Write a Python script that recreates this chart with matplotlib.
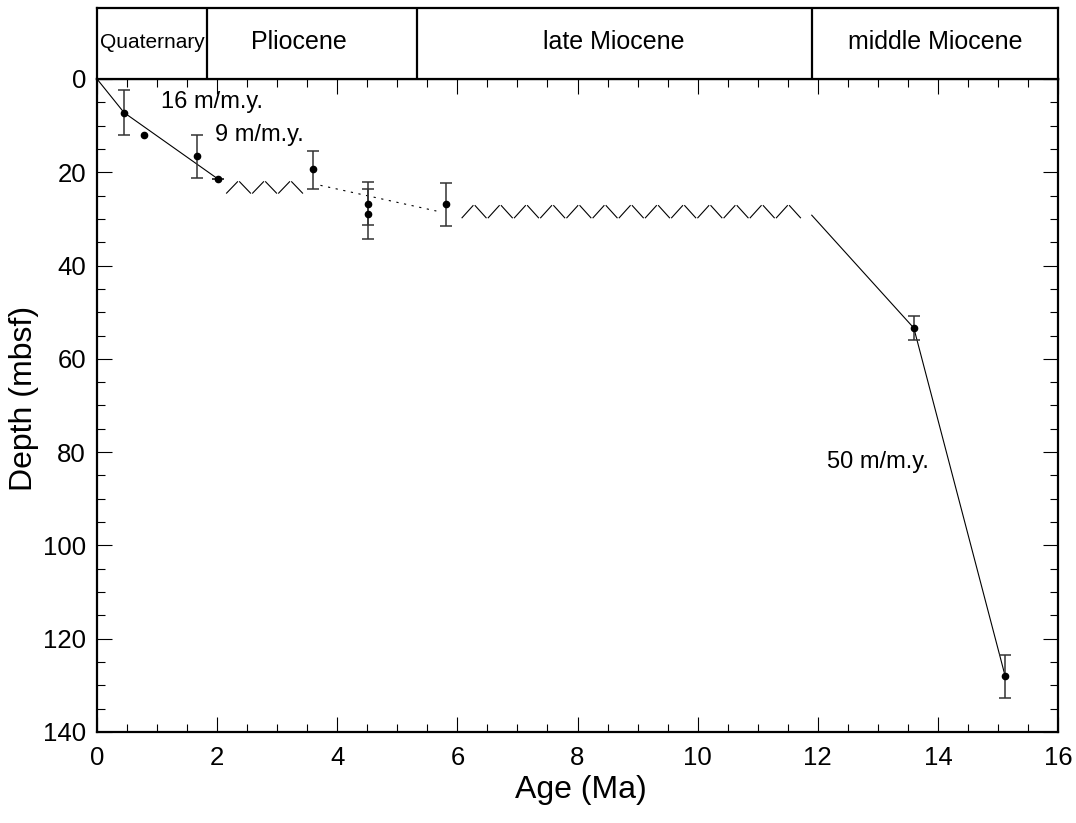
import matplotlib
matplotlib.use('Agg')
import matplotlib.pyplot as plt
import numpy as np
from matplotlib.ticker import MultipleLocator

plt.rcParams['font.family'] = ['Liberation Sans', 'DejaVu Sans']

# datums with depth ranges (age in Ma, depth in mbsf)
age_err = [0.45, 1.67, 2.01, 3.59, 4.51, 4.51, 5.81, 13.6, 15.12]
depth_err = [7.2, 16.5, 21.4, 19.4, 26.7, 28.9, 26.8, 53.4, 128.0]
depth_hi = [2.4, 11.9, 21.4, 15.4, 23.5, 22.1, 22.2, 50.8, 123.5]
depth_lo = [11.9, 21.2, 21.4, 23.6, 31.4, 34.2, 31.5, 56.0, 132.7]

# datum without a depth range
age_pt = [0.79]
depth_pt = [12.1]

# sedimentation rate lines
upper_age = [0.0, 0.45, 2.01]
upper_depth = [0.0, 7.2, 21.4]
dotted_age = [3.72, 5.65]
dotted_depth = [22.8, 28.3]
lower_age = [11.9, 13.6, 15.12]
lower_depth = [29.2, 53.4, 128.0]

rate_labels = ['16 m/m.y.', '9 m/m.y.', '50 m/m.y.']
rate_x = [1.06, 1.96, 12.15]
rate_y = [4.85, 12.0, 82.1]

# hiatuses
hiatus_start = [2.14, 6.06]
hiatus_end = [3.44, 11.73]
hiatus_top = [21.8, 26.9]
hiatus_bottom = [24.7, 30.0]
hiatus_peaks = [3, 13]

# epochs
epoch_names = ['Quaternary', 'Pliocene', 'late Miocene', 'middle Miocene']
epoch_bounds = [0.0, 1.83, 5.33, 11.9, 16.0]
epoch_label_x = [0.915, 3.36, 8.6, 13.95]
epoch_size = [15, 18, 18, 18]

fig = plt.figure(figsize=(10.76, 8.23), dpi=100)
L, R = 97 / 1076, 1058 / 1076
ax = fig.add_axes([L, 91 / 823, R - L, (732 - 79) / 823])
band = fig.add_axes([L, (823 - 79) / 823, R - L, 71 / 823])

ax.plot(upper_age, upper_depth, color='black', lw=0.8)
ax.plot(lower_age, lower_depth, color='black', lw=0.8)
ax.plot(dotted_age, dotted_depth, color='black', lw=0.8, linestyle=(0, (2, 5)))

yerr = [np.subtract(depth_err, depth_hi), np.subtract(depth_lo, depth_err)]
ax.errorbar(age_err, depth_err, yerr=yerr, fmt='o', color='black', ms=4.5,
            ecolor='#333333', elinewidth=1.1, capsize=4, capthick=1.1)
ax.plot(age_pt, depth_pt, 'o', color='black', ms=4.5)


def hiatus(ax, x0, x1, ytop, ybot, npeaks):
    xs = np.linspace(x0, x1, 2 * npeaks + 1)
    gap = 0.08
    for i in range(2 * npeaks):
        ya, yb = (ybot, ytop) if i % 2 == 0 else (ytop, ybot)
        xa, xb = xs[i], xs[i + 1]
        dx, dy = xb - xa, yb - ya
        ax.plot([xa + gap * dx, xb - gap * dx], [ya + gap * dy, yb - gap * dy],
                color='black', lw=0.8)


for s, e, t, b, n in zip(hiatus_start, hiatus_end, hiatus_top, hiatus_bottom, hiatus_peaks):
    hiatus(ax, s, e, t, b, n)

for lab, x, y in zip(rate_labels, rate_x, rate_y):
    ax.text(x, y, lab, fontsize=17, ha='left', va='center')

ax.set_xlim(0, 16)
ax.set_ylim(140, 0)
ax.xaxis.set_major_locator(MultipleLocator(2))
ax.xaxis.set_minor_locator(MultipleLocator(0.5))
ax.yaxis.set_major_locator(MultipleLocator(20))
ax.yaxis.set_minor_locator(MultipleLocator(5))
ax.tick_params(which='both', direction='in', top=True, right=True, width=0.8, colors='black')
ax.tick_params(which='major', length=11, labelsize=18.5)
ax.tick_params(axis='x', which='major', pad=10)
ax.tick_params(axis='y', which='major', pad=8)
ax.tick_params(which='minor', length=5.5)
for sp in ax.spines.values():
    sp.set_linewidth(1.6)
ax.set_xlabel('Age (Ma)', fontsize=23)
ax.set_ylabel('Depth (mbsf)', fontsize=23)
ax.xaxis.set_label_coords(0.504, -0.066)
ax.yaxis.set_label_coords(-0.060, 0.511)

band.set_xlim(0, 16)
band.set_ylim(0, 1)
band.set_xticks([])
band.set_yticks([])
for sp in band.spines.values():
    sp.set_linewidth(1.6)
for b in epoch_bounds[1:-1]:
    band.axvline(b, color='black', lw=1.6)
for name, x, fs in zip(epoch_names, epoch_label_x, epoch_size):
    band.text(x, 0.52, name, fontsize=fs, ha='center', va='center')

fig.savefig('out.png', dpi=100)
